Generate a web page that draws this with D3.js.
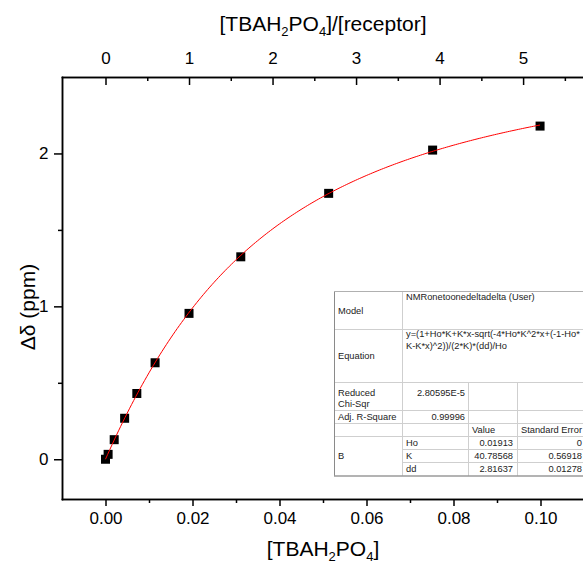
<!DOCTYPE html>
<html>
  <head>
    <meta charset="utf-8">
    <script src="https://unpkg.com/d3@7/dist/d3.min.js"></script>
    <style>
      body {
        margin: 0;
        background: #ffffff;
      }

      svg {
        font-family: "Liberation Sans", Arial, sans-serif;
      }

      .axis path,
      .axis line {
        stroke: #000000;
        stroke-width: 1.5px;
      }

      .axis text {
        font-size: 17px;
        fill: #000000;
      }

      .title {
        font-size: 21px;
        text-anchor: middle;
      }

      .fit {
        fill: none;
        stroke: #ff0000;
        stroke-width: 1px;
      }

      .cell-line {
        stroke: #cfcfcf;
        stroke-width: 1px;
      }

      .cell-text {
        font-size: 9.3px;
        fill: #222222;
      }
    </style>
  </head>
  <body>
    <script>
      // guest concentration (M) and observed shift (ppm)
      const conc = [0, 0.0006, 0.0020, 0.0044, 0.0072, 0.0114, 0.0192, 0.0311, 0.0513, 0.0752, 0.0999];
      const shift = [0, 0.032, 0.128, 0.268, 0.430, 0.631, 0.954, 1.324, 1.739, 2.022, 2.179];

      const xTicks = [0, 0.02, 0.04, 0.06, 0.08, 0.10];
      const xMinor = [0.01, 0.03, 0.05, 0.07, 0.09];
      const yTicks = [0, 1, 2];
      const yMinor = [0.5, 1.5];
      const topTicks = [0, 1, 2, 3, 4, 5];
      const topMinor = [0.5, 1.5, 2.5, 3.5, 4.5, 5.5];

      // fit parameters from the table
      const fitHo = 0.01913;
      const fitK = 40.78568;
      const fitDd = 2.81637;
      const receptorConc = 0.0192;

      const tableRows = [
        ['Model', 'NMRonetoonedeltadelta (User)'],
        ['Equation', 'y=(1+Ho*K+K*x-sqrt(-4*Ho*K^2*x+(-1-Ho*', 'K-K*x)^2))/(2*K)*(dd)/Ho'],
        ['Reduced', 'Chi-Sqr', '2.80595E-5'],
        ['Adj. R-Square', '0.99996']
      ];
      const paramNames = ['Ho', 'K', 'dd'];
      const paramValues = ['0.01913', '40.78568', '2.81637'];
      const paramErrors = ['0', '0.56918', '0.01278'];

      const width = 583;
      const height = 569;

      const svg = d3.select('body')
        .append('svg')
        .attr('width', width)
        .attr('height', height);

      const x = d3.scaleLinear()
        .domain([-0.01, 0.11])
        .range([62, 584]);

      const y = d3.scaleLinear()
        .domain([-0.26, 2.5])
        .range([499, 77]);

      const xTop = d3.scaleLinear()
        .domain(x.domain().map(d => d / receptorConc))
        .range(x.range());

      const model = c => {
        const b = 1 + fitHo * fitK + fitK * c;
        const bound = (b - Math.sqrt(-4 * fitHo * fitK * fitK * c + b * b)) / (2 * fitK);
        return bound * fitDd / fitHo;
      };

      // bottom axis
      svg.append('g')
        .attr('class', 'axis')
        .attr('transform', 'translate(0,499)')
        .call(d3.axisBottom(x).tickValues(xTicks).tickSize(7).tickSizeOuter(0)
          .tickPadding(5.5).tickFormat(d3.format('.2f')));
      svg.append('g')
        .attr('class', 'axis')
        .attr('transform', 'translate(0,499)')
        .call(d3.axisBottom(x).tickValues(xMinor).tickSize(4).tickSizeOuter(0).tickFormat(''));

      // left axis
      svg.append('g')
        .attr('class', 'axis')
        .attr('transform', 'translate(62,0)')
        .call(d3.axisLeft(y).tickValues(yTicks).tickSize(8).tickSizeOuter(0)
          .tickPadding(5.5).tickFormat(d3.format('d')));
      svg.append('g')
        .attr('class', 'axis')
        .attr('transform', 'translate(62,0)')
        .call(d3.axisLeft(y).tickValues(yMinor).tickSize(4).tickSizeOuter(0).tickFormat(''));

      // top axis, ticks pointing in
      svg.append('g')
        .attr('class', 'axis')
        .attr('transform', 'translate(0,77)')
        .call(d3.axisTop(xTop).tickValues(topTicks).tickSize(-8).tickSizeOuter(0)
          .tickPadding(13.5).tickFormat(d3.format('d')));
      svg.append('g')
        .attr('class', 'axis')
        .attr('transform', 'translate(0,77)')
        .call(d3.axisTop(xTop).tickValues(topMinor).tickSize(-4).tickSizeOuter(0).tickFormat(''));

      svg.selectAll('.axis .domain')
        .attr('stroke-linecap', 'square');

      // parts: [text, isSubscript]
      const subTitle = (sel, parts) => {
        let down = false;
        parts.forEach(([txt, sub]) => {
          const dy = sub && !down ? 5 : (!sub && down ? -5 : 0);
          down = sub;
          sel.append('tspan')
            .attr('dy', dy)
            .attr('font-size', sub ? '13px' : null)
            .text(txt);
        });
      };

      subTitle(svg.append('text')
        .attr('class', 'title')
        .attr('x', 323)
        .attr('y', 31), [['[TBAH'], ['2', true], ['PO'], ['4', true], [']/[receptor]']]);

      subTitle(svg.append('text')
        .attr('class', 'title')
        .attr('x', 323)
        .attr('y', 556), [['[TBAH'], ['2', true], ['PO'], ['4', true], [']']]);

      svg.append('text')
        .attr('class', 'title')
        .attr('transform', 'translate(35,307) rotate(-90)')
        .text('\u0394\u03b4 (ppm)');

      // data + fit
      const pts = conc.map((c, i) => ({c, s: shift[i]}));

      svg.selectAll('rect.pt')
        .data(pts)
        .enter()
        .append('rect')
        .attr('class', 'pt')
        .attr('x', d => x(d.c) - 4.5)
        .attr('y', d => y(d.s) - 4.5)
        .attr('width', 9)
        .attr('height', 9)
        .attr('fill', '#000000');

      const fitX = d3.range(0, 201).map(i => conc[conc.length - 1] * i / 200);
      svg.append('path')
        .datum(fitX)
        .attr('class', 'fit')
        .attr('d', d3.line().x(c => x(c)).y(c => y(model(c))));

      // results table
      const tb = svg.append('g');
      const rowY = [291, 329, 382, 410, 423, 436, 449, 462, 476];
      const colX = [334, 402, 468, 517, 600];

      tb.append('rect')
        .attr('x', colX[0])
        .attr('y', rowY[0])
        .attr('width', colX[4] - colX[0])
        .attr('height', rowY[8] - rowY[0])
        .attr('fill', '#ffffff');

      const hLine = (yy, x1) => tb.append('line')
        .attr('class', 'cell-line')
        .attr('x1', x1).attr('x2', colX[4])
        .attr('y1', yy).attr('y2', yy);
      const vLine = (xx, y1, y2) => tb.append('line')
        .attr('class', 'cell-line')
        .attr('x1', xx).attr('x2', xx)
        .attr('y1', y1).attr('y2', y2);

      [1, 2, 3, 4, 5].forEach(i => hLine(rowY[i] + 0.5, colX[0]));
      [6, 7].forEach(i => hLine(rowY[i] + 0.5, colX[1]));
      vLine(colX[1] + 0.5, rowY[0], rowY[8]);
      vLine(colX[2] + 0.5, rowY[2], rowY[8]);
      vLine(colX[3] + 0.5, rowY[2], rowY[8]);

      tb.append('line')
        .attr('x1', colX[0] + 0.5).attr('x2', colX[0] + 0.5)
        .attr('y1', rowY[0]).attr('y2', rowY[8])
        .attr('stroke', '#8a8a8a');
      tb.append('line')
        .attr('x1', colX[0]).attr('x2', colX[4])
        .attr('y1', rowY[0] + 0.5).attr('y2', rowY[0] + 0.5)
        .attr('stroke', '#b0b0b0');
      tb.append('line')
        .attr('x1', colX[0]).attr('x2', colX[4])
        .attr('y1', rowY[8]).attr('y2', rowY[8])
        .attr('stroke', '#9a9a9a')
        .attr('stroke-width', 1.5);

      const cell = (txt, xx, yy, anchor) => tb.append('text')
        .attr('class', 'cell-text')
        .attr('x', xx)
        .attr('y', yy)
        .attr('text-anchor', anchor || 'start')
        .text(txt);

      cell(tableRows[0][0], 338, 314);
      cell(tableRows[0][1], 406, 300);
      cell(tableRows[1][0], 338, 359);
      cell(tableRows[1][1], 406, 337);
      cell(tableRows[1][2], 406, 349);
      cell(tableRows[2][0], 338, 396);
      cell(tableRows[2][1], 338, 407);
      cell(tableRows[2][2], 465, 396, 'end');
      cell(tableRows[3][0], 338, 420);
      cell(tableRows[3][1], 465, 420, 'end');
      cell('Value', 472, 433);
      cell('Standard Error', 521, 433);
      cell('B', 338, 459);
      paramNames.forEach((p, i) => {
        const yy = 446 + i * 13;
        cell(p, 406, yy);
        cell(paramValues[i], 513, yy, 'end');
        cell(paramErrors[i], 582, yy, 'end');
      });
    </script>
  </body>
</html>
